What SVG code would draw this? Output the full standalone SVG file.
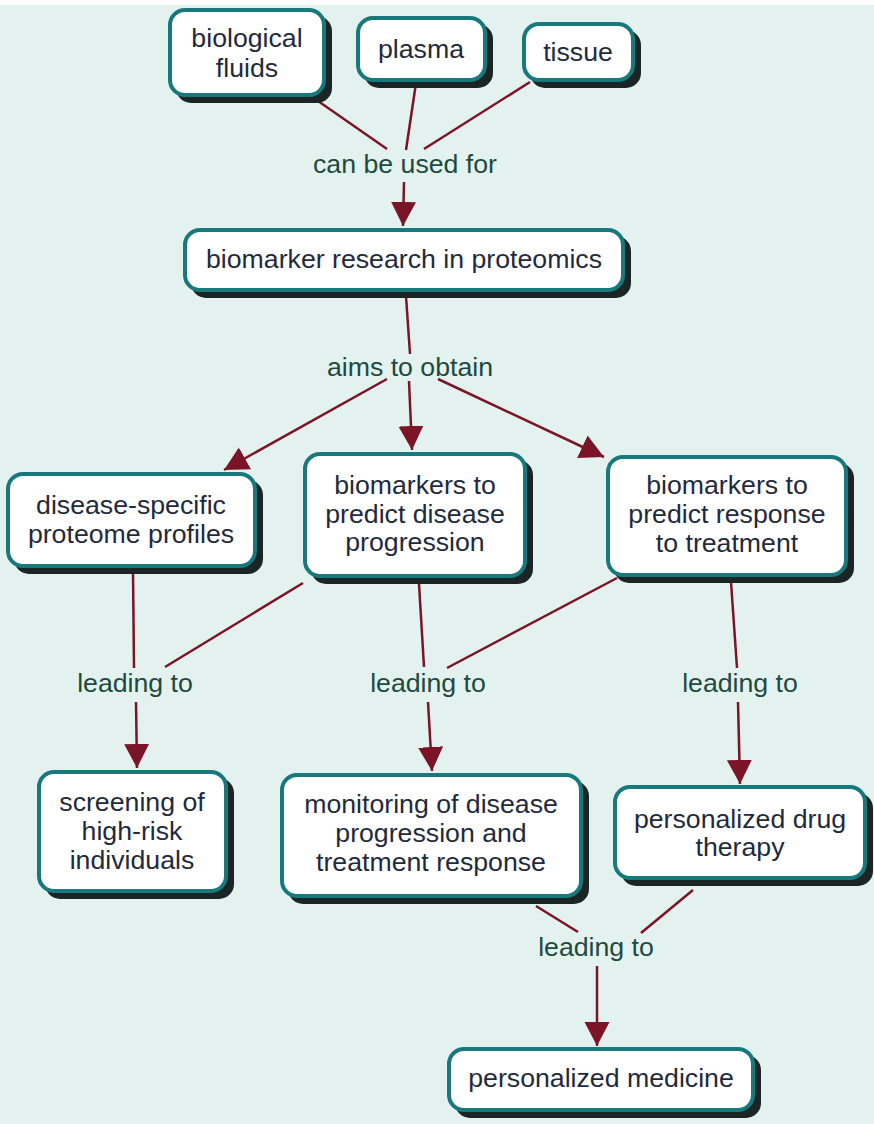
<svg xmlns="http://www.w3.org/2000/svg" width="874" height="1124" viewBox="0 0 874 1124">
  <style>
    .bg { fill: #e4f2ef; }
    .shadow { fill: #1b2525; }
    .box { fill: #ffffff; stroke: #17797c; stroke-width: 4; }
    .txt { font-family: "Liberation Sans", Arial, sans-serif; font-size: 26.7px; fill: #1f2a3c; text-anchor: middle; }
    .lbl { font-family: "Liberation Sans", Arial, sans-serif; font-size: 26.7px; fill: #1d4a3e; text-anchor: middle; }
    .edge { fill: none; stroke: #7c1427; stroke-width: 2.5; }
  </style>
  <defs>
    <marker id="arrow" markerUnits="userSpaceOnUse" markerWidth="26" markerHeight="26" refX="24" refY="12.5" orient="auto">
      <path d="M0,0 L24,12.5 L0,25 z" fill="#7c1427"/>
    </marker>
  </defs>

  <rect class="bg" x="0" y="0" width="874" height="1124"/>
  <rect x="0" y="0" width="874" height="5" fill="#ffffff"/>

  <!-- connectors -->
  <g id="connectors">
    <line class="edge" x1="318" y1="101" x2="387" y2="149"/>
    <line class="edge" x1="416" y1="83" x2="406" y2="150"/>
    <line class="edge" x1="530" y1="82" x2="424" y2="149"/>
    <line class="edge" x1="404" y1="182" x2="403" y2="226" marker-end="url(#arrow)"/>
    <line class="edge" x1="406" y1="296" x2="410" y2="354"/>
    <line class="edge" x1="387" y1="379" x2="224" y2="470" marker-end="url(#arrow)"/>
    <line class="edge" x1="409" y1="381" x2="412" y2="450" marker-end="url(#arrow)"/>
    <line class="edge" x1="438" y1="379" x2="604" y2="457" marker-end="url(#arrow)"/>
    <line class="edge" x1="133" y1="572" x2="134" y2="668"/>
    <line class="edge" x1="303" y1="583" x2="165" y2="667"/>
    <line class="edge" x1="136" y1="702" x2="137" y2="768" marker-end="url(#arrow)"/>
    <line class="edge" x1="419" y1="584" x2="424" y2="667"/>
    <line class="edge" x1="617" y1="578" x2="447" y2="668"/>
    <line class="edge" x1="428" y1="702" x2="432" y2="771" marker-end="url(#arrow)"/>
    <line class="edge" x1="731" y1="582" x2="737" y2="668"/>
    <line class="edge" x1="738" y1="702" x2="740" y2="784" marker-end="url(#arrow)"/>
    <line class="edge" x1="536" y1="906" x2="578" y2="932"/>
    <line class="edge" x1="693" y1="890" x2="641" y2="933"/>
    <line class="edge" x1="597" y1="966" x2="597" y2="1046" marker-end="url(#arrow)"/>
  </g>

  <!-- connector labels -->
  <g id="labels">
    <text class="lbl" x="405" y="173">can be used for</text>
    <text class="lbl" x="410" y="376">aims to obtain</text>
    <text class="lbl" x="135" y="692">leading to</text>
    <text class="lbl" x="428" y="692">leading to</text>
    <text class="lbl" x="740" y="692">leading to</text>
    <text class="lbl" x="596" y="956">leading to</text>
  </g>

  <!-- nodes -->
  <g id="node-biological-fluids">
    <rect class="shadow" x="176" y="16" width="156" height="87" rx="15"/>
    <rect class="box" x="170" y="10" width="154" height="85" rx="15"/>
    <text class="txt" x="247" y="47">biological</text>
    <text class="txt" x="247" y="77">fluids</text>
  </g>
  <g id="node-plasma">
    <rect class="shadow" x="364" y="24" width="129" height="64" rx="15"/>
    <rect class="box" x="358" y="18" width="127" height="62" rx="15"/>
    <text class="txt" x="421" y="58">plasma</text>
  </g>
  <g id="node-tissue">
    <rect class="shadow" x="530" y="30" width="111" height="58" rx="15"/>
    <rect class="box" x="524" y="24" width="109" height="56" rx="15"/>
    <text class="txt" x="578" y="61">tissue</text>
  </g>
  <g id="node-biomarker-research">
    <rect class="shadow" x="191" y="236" width="440" height="62" rx="15"/>
    <rect class="box" x="185" y="230" width="438" height="60" rx="15"/>
    <text class="txt" x="404" y="268">biomarker research in proteomics</text>
  </g>
  <g id="node-disease-specific">
    <rect class="shadow" x="14" y="480" width="249" height="94" rx="15"/>
    <rect class="box" x="8" y="474" width="247" height="92" rx="15"/>
    <text class="txt" x="131" y="514">disease-specific</text>
    <text class="txt" x="131" y="543">proteome profiles</text>
  </g>
  <g id="node-predict-progression">
    <rect class="shadow" x="311" y="460" width="222" height="124" rx="15"/>
    <rect class="box" x="305" y="454" width="220" height="122" rx="15"/>
    <text class="txt" x="415" y="494">biomarkers to</text>
    <text class="txt" x="415" y="523">predict disease</text>
    <text class="txt" x="415" y="551">progression</text>
  </g>
  <g id="node-predict-response">
    <rect class="shadow" x="614" y="463" width="240" height="120" rx="15"/>
    <rect class="box" x="608" y="457" width="238" height="118" rx="15"/>
    <text class="txt" x="727" y="494">biomarkers to</text>
    <text class="txt" x="727" y="523">predict response</text>
    <text class="txt" x="727" y="552">to treatment</text>
  </g>
  <g id="node-screening">
    <rect class="shadow" x="45" y="778" width="189" height="121" rx="15"/>
    <rect class="box" x="39" y="772" width="187" height="119" rx="15"/>
    <text class="txt" x="132" y="811">screening of</text>
    <text class="txt" x="132" y="840">high-risk</text>
    <text class="txt" x="132" y="869">individuals</text>
  </g>
  <g id="node-monitoring">
    <rect class="shadow" x="288" y="781" width="301" height="123" rx="15"/>
    <rect class="box" x="282" y="775" width="299" height="121" rx="15"/>
    <text class="txt" x="431" y="813">monitoring of disease</text>
    <text class="txt" x="431" y="842">progression and</text>
    <text class="txt" x="431" y="871">treatment response</text>
  </g>
  <g id="node-drug-therapy">
    <rect class="shadow" x="621" y="793" width="252" height="93" rx="15"/>
    <rect class="box" x="615" y="787" width="250" height="91" rx="15"/>
    <text class="txt" x="740" y="828">personalized drug</text>
    <text class="txt" x="740" y="856">therapy</text>
  </g>
  <g id="node-personalized-medicine">
    <rect class="shadow" x="455" y="1055" width="306" height="63" rx="15"/>
    <rect class="box" x="449" y="1049" width="304" height="61" rx="15"/>
    <text class="txt" x="601" y="1087">personalized medicine</text>
  </g>
</svg>
